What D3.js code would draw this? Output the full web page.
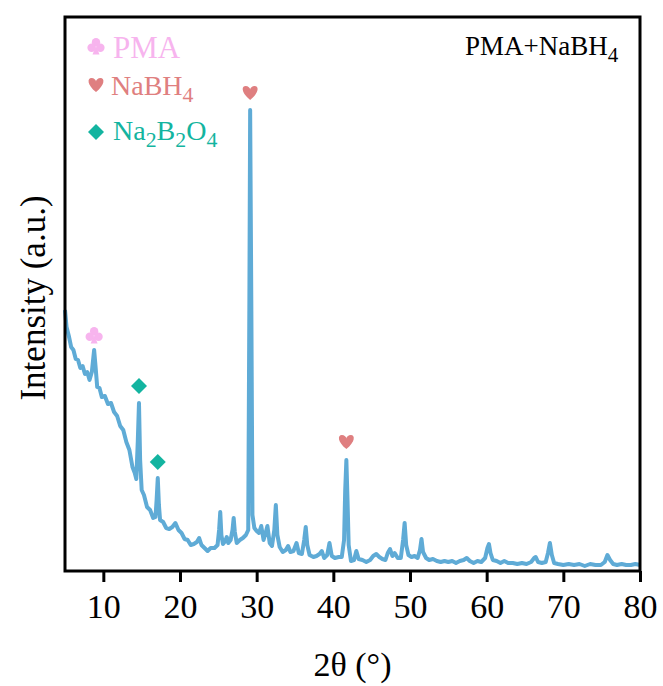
<!DOCTYPE html>
<html lang="en">
<head>
  <meta charset="UTF-8">
  <title>XRD PMA+NaBH4</title>
  <script src="https://d3js.org/d3.v7.min.js"></script>
  <style>
    body { margin: 0; background: #fff; }
    svg text { font-family: "Liberation Serif", "Times New Roman", serif; }
  </style>
</head>
<body>
  <svg id="chart"></svg>
  <script>
    // XRD pattern, 2θ (degrees)
    const twoTheta = [
      5.0, 5.2, 5.5, 5.8, 6.1, 6.4, 6.7, 7.0, 7.3, 7.6, 7.9, 8.2, 8.5, 8.8, 9.0, 9.2, 9.5, 9.8,
      10.2, 10.6, 11.0, 11.4, 11.8, 12.2, 12.6, 13.0, 13.4, 13.8, 14.1, 14.3, 14.5, 14.65, 14.8,
      15.0, 15.3, 15.7, 16.1, 16.5, 16.8, 16.95, 17.1, 17.25, 17.4, 17.8, 18.2, 18.6, 19.0, 19.4,
      19.8, 20.2, 20.6, 21.0, 21.4, 21.8, 22.2, 22.5, 22.8, 23.2, 23.6, 24.0, 24.5, 24.9, 25.1,
      25.25, 25.4, 25.6, 25.9, 26.1, 26.3, 26.6, 26.85, 27.0, 27.15, 27.4, 27.8, 28.2, 28.6, 28.9,
      29.05, 29.15, 29.3, 29.45, 29.7, 30.0, 30.3, 30.6, 30.9, 31.2, 31.4, 31.7, 32.0, 32.3, 32.5,
      32.7, 33.0, 33.4, 33.8, 34.1, 34.4, 34.8, 35.2, 35.5, 35.9, 36.2, 36.4, 36.6, 36.9, 37.4,
      37.8, 38.2, 38.5, 38.8, 39.2, 39.5, 39.8, 40.2, 40.7, 41.1, 41.4, 41.55, 41.7, 41.85, 42.0,
      42.3, 42.7, 43.0, 43.3, 43.8, 44.3, 44.8, 45.2, 45.6, 46.0, 46.4, 46.8, 47.1, 47.4, 47.7,
      48.0, 48.4, 48.8, 49.1, 49.3, 49.5, 49.8, 50.2, 50.6, 51.0, 51.3, 51.5, 51.7, 52.1, 52.5,
      53.0, 53.5, 54.0, 54.5, 55.0, 55.5, 56.0, 56.5, 57.0, 57.4, 57.8, 58.3, 58.8, 59.3, 59.8,
      60.1, 60.3, 60.5, 60.8, 61.3, 61.8, 62.3, 62.8, 63.4, 64.0, 64.6, 65.2, 65.8, 66.2, 66.4,
      66.7, 67.2, 67.7, 68.0, 68.25, 68.5, 68.8, 69.3, 70.0, 70.7, 71.4, 72.1, 72.8, 73.5, 74.2,
      74.9, 75.4, 75.75, 76.1, 76.5, 77.0, 77.6, 78.2, 78.8, 79.4, 80.0
    ];

    // intensity (a.u.)
    const intensity = [
      261, 244, 235, 224, 221, 212, 211, 203, 205, 197, 199, 191, 199, 221, 203, 184, 183, 174,
      175, 167, 168, 159, 155, 145, 141, 129, 121, 104, 98, 92, 131, 168, 111,
      81, 76, 64, 61, 53, 54, 71, 93, 66, 51, 49, 43, 42, 44, 48,
      41, 38, 32, 31, 26, 27, 29, 33, 26, 23, 20, 23, 23, 26, 41,
      59, 36, 27, 30, 34, 28, 31, 41, 53, 39, 28, 31, 33, 36, 41,
      271, 461, 271, 56, 43, 40, 38, 45, 31, 39, 45, 28, 25, 41, 66,
      36, 24, 19, 21, 25, 19, 20, 28, 18, 17, 31, 44, 26, 16, 14,
      15, 17, 20, 13, 16, 28, 15, 13, 14, 14, 31, 81, 111, 71, 26,
      10, 11, 20, 12, 11, 9, 11, 15, 17, 14, 12, 11, 18, 22, 15,
      18, 13, 13, 31, 48, 26, 16, 14, 15, 13, 21, 32, 19, 13, 11,
      12, 10, 9, 10, 9, 10, 8, 10, 11, 13, 10, 8, 10, 9, 13,
      23, 27, 18, 11, 10, 8, 10, 8, 8, 7, 8, 7, 9, 13, 14,
      9, 8, 9, 18, 28, 16, 8, 7, 6, 7, 6, 7, 5, 7, 6,
      6, 9, 16, 11, 7, 6, 7, 6, 6, 7, 6
    ];

    // peak assignments
    const markPhase = ["PMA", "Na2B2O4", "Na2B2O4", "NaBH4", "NaBH4"];
    const markTheta = [8.8, 14.65, 17.1, 29.15, 41.7];
    const markLevel = [236, 185, 109, 478, 129];

    const legendPhases = ["PMA", "NaBH4", "Na2B2O4"];
    const xTicks = [10, 20, 30, 40, 50, 60, 70, 80];

    const W = 663, H = 686;
    const margin = { top: 17, right: 23, bottom: 115, left: 65 };

    const colors = { "PMA": "#f7b4ee", "NaBH4": "#df7f80", "Na2B2O4": "#13b4a0" };

    const svg = d3.select("#chart").attr("width", W).attr("height", H);

    const x = d3.scaleLinear().domain([5, 80]).range([margin.left, W - margin.right]);
    const y = d3.scaleLinear().domain([0, 554]).range([H - margin.bottom, margin.top]);

    const data = twoTheta.map((t, i) => ({ t, v: intensity[i] }));

    // pattern line
    svg.append("path")
      .datum(data)
      .attr("fill", "none")
      .attr("stroke", "#5fabd6")
      .attr("stroke-width", 4)
      .attr("stroke-linejoin", "round")
      .attr("d", d3.line().x(d => x(d.t)).y(d => y(d.v)));

    // frame
    svg.append("rect")
      .attr("x", margin.left)
      .attr("y", margin.top)
      .attr("width", W - margin.left - margin.right)
      .attr("height", H - margin.top - margin.bottom)
      .attr("fill", "none")
      .attr("stroke", "#000")
      .attr("stroke-width", 3);

    // x axis
    const xAxis = svg.append("g")
      .attr("transform", `translate(0, ${H - margin.bottom})`)
      .call(d3.axisBottom(x).tickValues(xTicks).tickSize(11).tickPadding(12).tickFormat(d3.format("d")));
    xAxis.select(".domain").remove();
    xAxis.selectAll(".tick line").attr("stroke", "#000").attr("stroke-width", 3);
    xAxis.selectAll(".tick text")
      .attr("fill", "#000")
      .style("font-family", "Liberation Serif")
      .style("font-size", "34px");

    svg.append("text")
      .attr("x", (margin.left + W - margin.right) / 2)
      .attr("y", 676)
      .attr("text-anchor", "middle")
      .style("font-size", "34px")
      .text("2θ (°)");

    svg.append("text")
      .attr("transform", "translate(45, 298) rotate(-90)")
      .attr("text-anchor", "middle")
      .style("font-size", "35px")
      .text("Intensity (a.u.)");

    // marker shapes
    const shapes = {
      "NaBH4": "M0,7 C-9,0 -9,-7 -4.5,-7 C-2,-7 0,-5 0,-3.5 C0,-5 2,-7 4.5,-7 C9,-7 9,0 0,7 Z",
      "Na2B2O4": "M0,-8 L8,0 L0,8 L-8,0 Z"
    };

    function drawMarker(g, phase) {
      if (phase === "PMA") {
        g.append("circle").attr("cx", 0).attr("cy", -3.8).attr("r", 4.2).attr("fill", colors[phase]);
        g.append("circle").attr("cx", -4.4).attr("cy", 1.8).attr("r", 4.2).attr("fill", colors[phase]);
        g.append("circle").attr("cx", 4.4).attr("cy", 1.8).attr("r", 4.2).attr("fill", colors[phase]);
        g.append("path").attr("d", "M0,0 L3.5,8.5 L-3.5,8.5 Z").attr("fill", colors[phase]);
      } else {
        g.append("path").attr("d", shapes[phase]).attr("fill", colors[phase]);
      }
    }

    markPhase.forEach((p, i) => {
      const g = svg.append("g").attr("transform", `translate(${x(markTheta[i])}, ${y(markLevel[i])})`);
      drawMarker(g, p);
    });

    // legend
    const legendY = [46, 85, 132];
    legendPhases.forEach((p, i) => {
      const g = svg.append("g").attr("transform", `translate(96, ${legendY[i]})`);
      drawMarker(g, p);
    });

    function chem(sel, parts, size) {
      // parts: [text, isSub]
      let sub = false;
      parts.forEach(([t, s]) => {
        const ts = sel.append("tspan").text(t);
        if (s && !sub) ts.attr("dy", 7).style("font-size", (size * 0.78) + "px");
        else if (s) ts.style("font-size", (size * 0.78) + "px");
        if (!s && sub) ts.attr("dy", -7);
        sub = s;
      });
    }

    svg.append("text")
      .attr("x", 113).attr("y", 58)
      .attr("fill", colors["PMA"])
      .style("font-size", "31px")
      .text("PMA");

    chem(svg.append("text").attr("x", 111).attr("y", 95).attr("fill", colors["NaBH4"]).style("font-size", "28px"),
      [["NaBH", false], ["4", true]], 28);

    chem(svg.append("text").attr("x", 113).attr("y", 140).attr("fill", colors["Na2B2O4"]).style("font-size", "28px"),
      [["Na", false], ["2", true], ["B", false], ["2", true], ["O", false], ["4", true]], 28);

    chem(svg.append("text").attr("x", 465).attr("y", 55).attr("fill", "#000").style("font-size", "27px"),
      [["PMA+NaBH", false], ["4", true]], 27);
  </script>
</body>
</html>
